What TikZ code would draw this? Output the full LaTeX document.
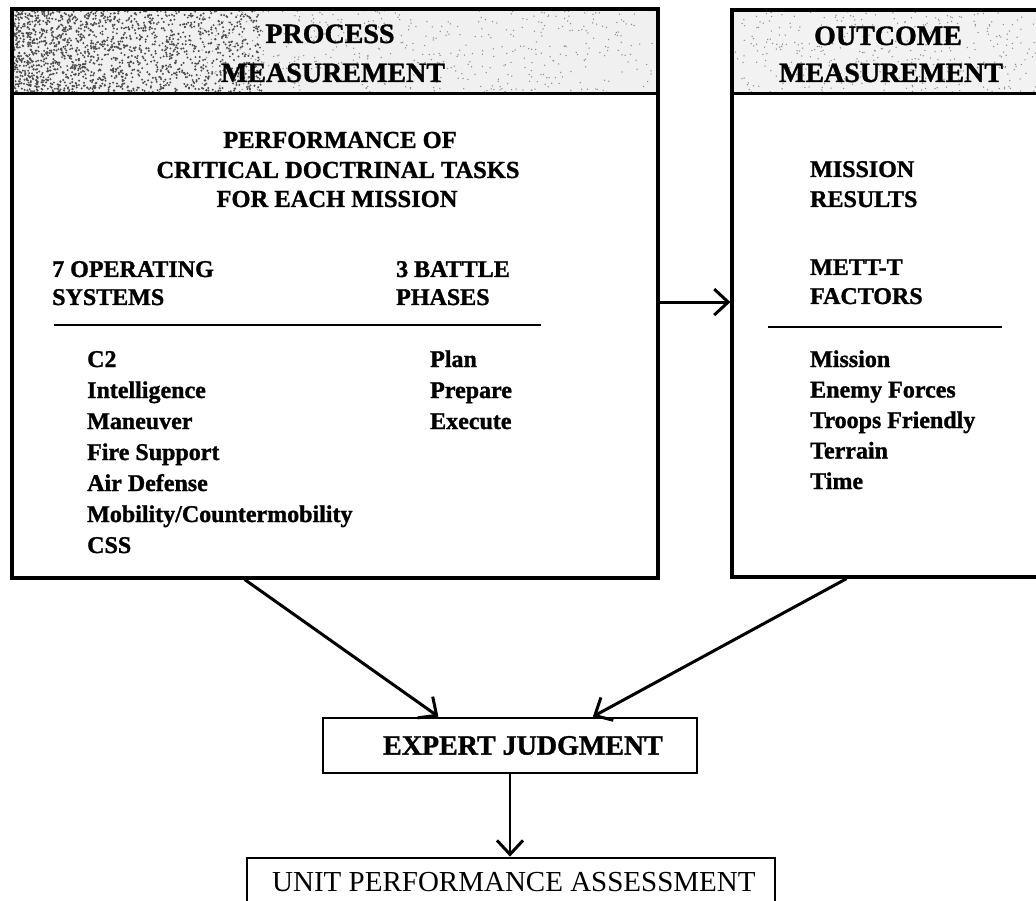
\documentclass[tikz,border=0pt]{standalone}
\usepackage{fontspec}
\setmainfont{Liberation Serif}[BoldFeatures={FakeBold=1.2}]
\usetikzlibrary{arrows.meta,calc}
\begin{document}
\begin{tikzpicture}[x=1pt,y=-1pt,
  box/.style={draw, line width=3.2pt, inner sep=0pt},
  hd/.style={font=\fontsize{28}{30}\selectfont\bfseries, anchor=base, inner sep=0pt},
  bc/.style={font=\fontsize{24.5}{29}\selectfont\bfseries, anchor=base, inner sep=0pt},
  bd/.style={font=\fontsize{24}{29}\selectfont\bfseries, anchor=base west, inner sep=0pt},
  rulel/.style={line width=2.4pt},
  arr/.style={line width=3pt, -{Straight Barb[length=14pt,width=26pt,line width=3pt]}},
  speck/.style={fill=black!70}
]
\clip (0,0) rectangle (1036,901);
\fill[white] (0,0) rectangle (1036,901);

% ---------- header speckle ----------
\fill[gray!12] (12,9) rectangle (658,95);
\fill[gray!10] (732,10) rectangle (1048,95);
\pgfmathsetseed{7}
\foreach \i in {1,...,1700}{
  \pgfmathsetmacro\xx{12+250*rnd^1.4}
  \pgfmathsetmacro\yy{10+84*rnd}
  \fill[speck] (\xx,\yy) circle (1.1pt);
}
\foreach \i in {1,...,500}{
  \pgfmathsetmacro\xx{200+458*rnd}
  \pgfmathsetmacro\yy{10+84*rnd}
  \fill[black!45] (\xx,\yy) circle (0.75pt);
}
\foreach \i in {1,...,380}{
  \pgfmathsetmacro\xx{732+304*rnd}
  \pgfmathsetmacro\yy{10+84*rnd}
  \fill[black!45] (\xx,\yy) circle (0.75pt);
}

% ---------- Process measurement box ----------
\node[box, minimum width=646pt, minimum height=569pt] (process) at (335,293.5) {};
\coordinate (phl) at ($(process.north west)!0.151!(process.south west)$);
\draw[line width=3pt] (phl) -- (phl -| process.east);
\node[hd] (p1) at (330,43) {PROCESS};
\node[hd] (p2) at (333,82) {MEASUREMENT};

\node[bc] (c1) at (340,148) {PERFORMANCE OF};
\node[bc] (c2) at (338,178) {CRITICAL DOCTRINAL TASKS};
\node[bc] (c3) at (337,207) {FOR EACH MISSION};

\node[bd] (os1) at (52,277) {7 OPERATING};
\node[bd] (os2) at (52,305) {SYSTEMS};
\node[bd] (bp1) at (396,277) {3 BATTLE};
\node[bd] (bp2) at (396,305) {PHASES};
\coordinate (rl1) at (54,325);
\coordinate (rl2) at (541,325);
\draw[rulel] (rl1) -- (rl2);

\foreach \t [count=\i from 0] in {C2,Intelligence,Maneuver,Fire Support,Air Defense,Mobility/Countermobility,CSS}
  \node[bd] (os-\i) at (87,367+31*\i) {\t};
\foreach \t [count=\i from 0] in {Plan,Prepare,Execute}
  \node[bd] (ph-\i) at (430,367+31*\i) {\t};

% ---------- Outcome measurement box ----------
\node[box, minimum width=316pt, minimum height=567pt] (outcome) at (890,293.5) {};
\coordinate (ohl) at ($(outcome.north west)!0.15!(outcome.south west)$);
\draw[line width=3pt] (ohl) -- (ohl -| outcome.east);
\node[hd] (o1) at (888,45) {OUTCOME};
\node[hd] (o2) at (891,82) {MEASUREMENT};

\node[bd] (mr1) at (810,177) {MISSION};
\node[bd] (mr2) at (810,207) {RESULTS};
\node[bd] (mt1) at (810,275) {METT-T};
\node[bd] (mt2) at (810,304) {FACTORS};
\coordinate (rr1) at (768,327);
\coordinate (rr2) at (1002,327);
\draw[rulel] (rr1) -- (rr2);
\foreach \t [count=\i from 0] in {Mission,Enemy Forces,Troops Friendly,Terrain,Time}
  \node[bd] (mf-\i) at (810,367+30.5*\i) {\t};

% ---------- lower boxes ----------
\node[box, line width=2.8pt, minimum width=374pt, minimum height=55pt,
      font=\fontsize{28}{30}\selectfont\bfseries] (expert) at (510,745.5) {\hspace*{26pt}EXPERT JUDGMENT};
\node[box, line width=2.8pt, minimum width=528pt, minimum height=60pt] (unit) at (511,888) {};
\node[anchor=base west, inner sep=0pt, font=\fontsize{29}{31}\selectfont] (unittext) at (272,891) {UNIT PERFORMANCE ASSESSMENT};

% ---------- connectors ----------
\coordinate (pa) at ($(process.north east)!0.515!(process.south east)$);
\draw[arr] (pa) -- (pa -| outcome.west);
\draw[arr] ($(process.south west)!0.361!(process.south east)$) -- ($(expert.north west)!0.31!(expert.north east)$);
\draw[arr] ($(outcome.south west)!0.364!(outcome.south east)$) -- ($(expert.north west)!0.72!(expert.north east)$);
\draw[arr, line width=2.4pt] (expert.south) -- (expert.south |- unit.north);
\end{tikzpicture}
\end{document}
